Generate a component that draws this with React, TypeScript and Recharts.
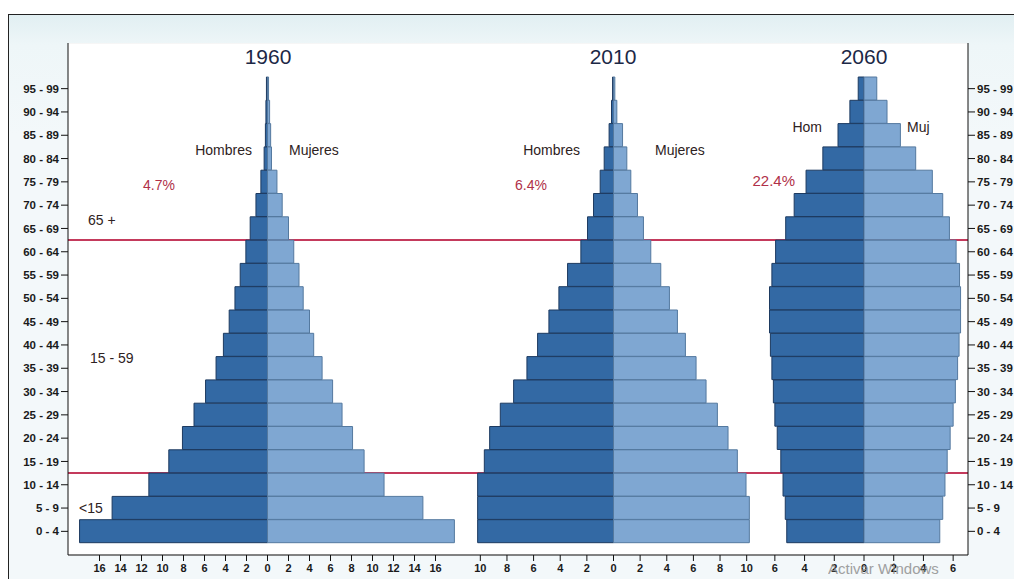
import React from 'react';
import { BarChart, Bar, XAxis, YAxis, CartesianGrid, ReferenceLine } from 'recharts';

// age groups, bottom to top
const ages = [
  '0 - 4', '5 - 9', '10 - 14', '15 - 19', '20 - 24', '25 - 29', '30 - 34', '35 - 39', '40 - 44', '45 - 49',
  '50 - 54', '55 - 59', '60 - 64', '65 - 69', '70 - 74', '75 - 79', '80 - 84', '85 - 89', '90 - 94', '95 - 99',
];

// % of population per age group
const men1960 = [17.9, 14.8, 11.3, 9.4, 8.1, 7.0, 5.9, 4.9, 4.2, 3.65, 3.1, 2.6, 2.06, 1.65, 1.1, 0.63, 0.32, 0.2, 0.15, 0.1];
const women1960 = [17.8, 14.8, 11.1, 9.2, 8.1, 7.1, 6.2, 5.2, 4.4, 4.0, 3.4, 3.0, 2.5, 2.0, 1.4, 0.9, 0.38, 0.3, 0.2, 0.1];
const men2010 = [10.2, 10.2, 10.2, 9.7, 9.3, 8.5, 7.5, 6.5, 5.7, 4.85, 4.1, 3.45, 2.45, 1.95, 1.5, 1.0, 0.7, 0.33, 0.15, 0.07];
const women2010 = [10.2, 10.2, 9.95, 9.3, 8.6, 7.8, 6.95, 6.2, 5.4, 4.8, 4.2, 3.55, 2.8, 2.25, 1.8, 1.3, 1.0, 0.68, 0.25, 0.1];
const men2060 = [5.2, 5.3, 5.45, 5.6, 5.84, 6.0, 6.1, 6.2, 6.3, 6.36, 6.36, 6.2, 5.95, 5.27, 4.7, 3.9, 2.77, 1.75, 0.95, 0.39];
const women2060 = [5.1, 5.3, 5.45, 5.6, 5.8, 6.0, 6.15, 6.3, 6.4, 6.5, 6.5, 6.43, 6.2, 5.75, 5.3, 4.6, 3.48, 2.45, 1.55, 0.86];

const ticks1960 = [-16, -14, -12, -10, -8, -6, -4, -2, 0, 2, 4, 6, 8, 10, 12, 14, 16];
const ticks2010 = [-10, -8, -6, -4, -2, 0, 2, 4, 6, 8, 10];
const ticks2060 = [-6, -4, -2, 0, 2, 4, 6];

// red lines sit on the top edge of these groups (<15 | 15-59 | 65+)
const groupCuts = ['10 - 14', '60 - 64'];

const FONT = '"Liberation Sans", Arial, Helvetica, sans-serif';
const MEN = '#3369a4';
const WOMEN = '#7fa7d2';
const RED = '#c43a5c';
const PAD = { top: 34, bottom: 12 };

type PyramidProps = {
  men: number[];
  women: number[];
  domain: [number, number];
  ticks: number[];
  left: number;
  width: number;
  axis: 'left' | 'right' | 'none';
  back?: boolean;
};

// drawn twice: a back layer (white plot, grid, red lines) and a front layer (bars, axes)
function Pyramid({ men, women, domain, ticks, left, width, axis, back }: PyramidProps) {
  const rows = ages.map((age, i) => ({ age, men: -men[i], women: women[i] }));
  const tickStyle = { fill: '#1a1a1a', fontSize: 11, fontWeight: 700, fontFamily: FONT };
  const ageStyle = { ...tickStyle, fontSize: 11.5 };
  const show = !back;
  return (
    <div style={{ position: 'absolute', left, top: 43 }}>
      <BarChart
        width={width}
        height={536}
        data={rows}
        layout="vertical"
        stackOffset="sign"
        barCategoryGap={0}
        barGap={0}
        margin={{ top: 0, right: 0, bottom: 0, left: 0 }}
      >
        {back && <CartesianGrid vertical={false} stroke="#ededed" fill="#ffffff" />}
        <XAxis
          type="number"
          domain={domain}
          ticks={ticks}
          interval={0}
          allowDataOverflow
          tickFormatter={(v: number) => String(Math.abs(v))}
          height={24}
          tickSize={6}
          tickMargin={3}
          stroke="#111"
          axisLine={show}
          tickLine={show}
          tick={show ? tickStyle : false}
        />
        <YAxis
          type="category"
          dataKey="age"
          reversed
          padding={PAD}
          orientation={axis === 'right' ? 'right' : 'left'}
          hide={axis === 'none'}
          width={62}
          interval={0}
          tickSize={7}
          tickMargin={2}
          stroke="#111"
          axisLine={show}
          tickLine={show}
          tick={show ? ageStyle : false}
        />
        {back &&
          groupCuts.map((c) => (
            <ReferenceLine key={c} y={c} position="start" stroke={RED} strokeWidth={2} />
          ))}
        <Bar
          dataKey="men"
          stackId="s"
          fill={back ? 'none' : MEN}
          stroke={back ? 'none' : '#1d3a60'}
          strokeWidth={1}
          isAnimationActive={false}
        />
        <Bar
          dataKey="women"
          stackId="s"
          fill={back ? 'none' : WOMEN}
          stroke={back ? 'none' : '#54799f'}
          strokeWidth={1}
          isAnimationActive={false}
        />
      </BarChart>
    </div>
  );
}

const panels = [
  { men: men1960, women: women1960, domain: [-19, 19] as [number, number], ticks: ticks1960, left: 6, width: 461, axis: 'left' as const },
  { men: men2010, women: women2010, domain: [-11, 11] as [number, number], ticks: ticks2010, left: 467, width: 293, axis: 'none' as const },
  { men: men2060, women: women2060, domain: [-7, 7] as [number, number], ticks: ticks2060, left: 760, width: 270, axis: 'right' as const },
];

export default function App() {
  const note = { fontFamily: FONT, fontSize: 14, fill: '#2e2222' };
  const pct = { fontFamily: FONT, fontSize: 14, fill: '#b03048' };
  const title = { fontFamily: FONT, fontSize: 21, fill: '#1c2846' };
  return (
    <div style={{ position: 'absolute', left: 0, top: 0, width: 1014, height: 579, background: '#fff', overflow: 'hidden' }}>
      <div
        style={{
          position: 'absolute',
          left: 8,
          top: 14,
          width: 1020,
          height: 600,
          border: '1.5px solid #222',
          background: 'linear-gradient(to bottom, #e1eff2 0px, #eef6f8 30px, #f3f8fa 120px, #f3f8fa 100%)',
        }}
      />
      {panels.map((p, i) => (
        <Pyramid key={'b' + i} {...p} back />
      ))}
      {panels.map((p, i) => (
        <Pyramid key={'f' + i} {...p} />
      ))}
      <svg width={1014} height={579} style={{ position: 'absolute', left: 0, top: 0, pointerEvents: 'none' }}>
        <text x={268} y={64} textAnchor="middle" style={title}>1960</text>
        <text x={613} y={64} textAnchor="middle" style={title}>2010</text>
        <text x={864} y={64} textAnchor="middle" style={title}>2060</text>
        <text x={252} y={155} textAnchor="end" style={note}>Hombres</text>
        <text x={289} y={155} style={note}>Mujeres</text>
        <text x={580} y={155} textAnchor="end" style={note}>Hombres</text>
        <text x={655} y={155} style={note}>Mujeres</text>
        <text x={822} y={132} textAnchor="end" style={note}>Hom</text>
        <text x={907} y={132} style={note}>Muj</text>
        <text x={143} y={190} style={pct}>4.7%</text>
        <text x={515} y={190} style={pct}>6.4%</text>
        <text x={795} y={186} textAnchor="end" style={{ ...pct, fontSize: 15 }}>22.4%</text>
        <text x={88} y={225} style={note}>65 +</text>
        <text x={90} y={363} style={note}>15 - 59</text>
        <text x={79} y={513} style={note}>&lt;15</text>
        <text x={828} y={574} style={{ fontFamily: FONT, fontSize: 15, fill: '#8a8a8a', opacity: 0.8 }}>Activar Windows</text>
      </svg>
    </div>
  );
}
